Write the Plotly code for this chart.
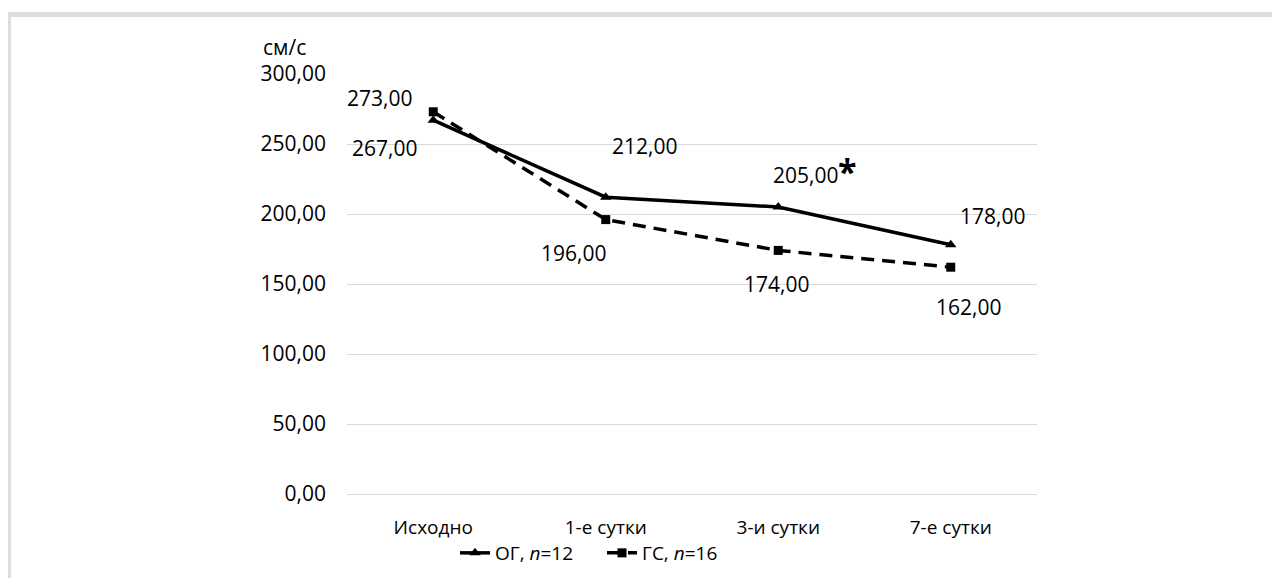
import plotly.graph_objects as go

categories = ["Исходно", "1-е сутки", "3-и сутки", "7-е сутки"]
og_values = [267, 212, 205, 178]
gs_values = [273, 196, 174, 162]
og_name = "ОГ, <i>n</i>=12"
gs_name = "ГС, <i>n</i>=16"
y_ticks = [0, 50, 100, 150, 200, 250, 300]
y_unit = "см/с"

def fmt(v):
    return f"{v:.2f}".replace(".", ",")

FONT = "Open Sans"
FS_NUM = 21
FS_TXT = 19

# page has an 8px body margin; page px = figure px + 8
W, H = 1272, 570
PX0, PW = 347, 690      # plot area left edge / width (page px)
PY0, PH = 494, 420      # plot area bottom edge / height (page px)

def px(xp):
    return (xp - PX0) / PW

def py(yp):
    return (PY0 - yp) / PH

fig = go.Figure()
fig.add_trace(go.Scatter(
    x=categories, y=og_values, name=og_name, mode="lines+markers",
    line=dict(color="black", width=3.5),
    marker=dict(symbol="triangle-up", size=10, color="black"),
))
fig.add_trace(go.Scatter(
    x=categories, y=gs_values, name=gs_name, mode="lines+markers",
    line=dict(color="black", width=3.5, dash="13px,8px"),
    marker=dict(symbol="square", size=9, color="black"),
))

og_shift = [(-49, -28), (39, 51), (27, 32), (42, 29)]
gs_shift = [(-54, 14), (-32, -33), (-2, -34), (18, -40)]
annotations = []
for c, v, (dx, dy) in zip(categories, og_values, og_shift):
    annotations.append(dict(x=c, y=v, xref="x", yref="y", text=fmt(v), showarrow=False,
                            xshift=dx, yshift=dy, font=dict(family=FONT, size=FS_NUM, color="black")))
for c, v, (dx, dy) in zip(categories, gs_values, gs_shift):
    annotations.append(dict(x=c, y=v, xref="x", yref="y", text=fmt(v), showarrow=False,
                            xshift=dx, yshift=dy, font=dict(family=FONT, size=FS_NUM, color="black")))
# significance asterisk next to 205,00
annotations.append(dict(x=categories[2], y=og_values[2], xref="x", yref="y", text="<b>*</b>",
                        showarrow=False, xshift=69, yshift=36,
                        font=dict(family=FONT, size=34, color="black")))
# unit label
annotations.append(dict(x=px(261), y=py(47), xref="paper", yref="paper",
                        text=y_unit, showarrow=False, xanchor="left", yanchor="middle",
                        font=dict(family=FONT, size=FS_NUM, color="black")))

border = "#dcdddf"
shapes = [
    dict(type="rect", xref="paper", yref="paper", x0=px(6), x1=px(1290),
         y0=py(17), y1=py(12), fillcolor=border, line=dict(width=0), layer="below"),
    dict(type="rect", xref="paper", yref="paper", x0=px(6), x1=px(11),
         y0=py(600), y1=py(12), fillcolor=border, line=dict(width=0), layer="below"),
]

fig.update_layout(
    width=W, height=H,
    margin=dict(l=PX0 - 8, r=W - (PX0 - 8) - PW, t=(PY0 - PH) - 8, b=H - (PY0 - 8)),
    paper_bgcolor="white", plot_bgcolor="white",
    font=dict(family=FONT, size=FS_TXT, color="black"),
    showlegend=True,
    legend=dict(orientation="h", xref="container", yref="container",
                x=(455 - 8) / W, xanchor="left",
                y=1 - (553 - 8) / H, yanchor="middle", entrywidth=102,
                font=dict(family=FONT, size=FS_TXT, color="black"),
                itemwidth=30, tracegroupgap=0, bgcolor="rgba(0,0,0,0)"),
    annotations=annotations,
    shapes=shapes,
    xaxis=dict(type="category", range=[-0.5, 3.5], showgrid=False, showline=False,
               zeroline=False, ticks="", ticklabelstandoff=20, automargin=False,
               tickfont=dict(family=FONT, size=FS_TXT, color="black")),
    yaxis=dict(range=[0, 300], tickvals=y_ticks, ticktext=[fmt(v) for v in y_ticks],
               showgrid=True, gridcolor="#d9d9d9", gridwidth=1,
               zeroline=True, zerolinecolor="#d9d9d9", zerolinewidth=1,
               showline=False, ticks="", ticklabelstandoff=20, automargin=False,
               tickfont=dict(family=FONT, size=FS_NUM, color="black")),
)

fig.write_html("out.html")
